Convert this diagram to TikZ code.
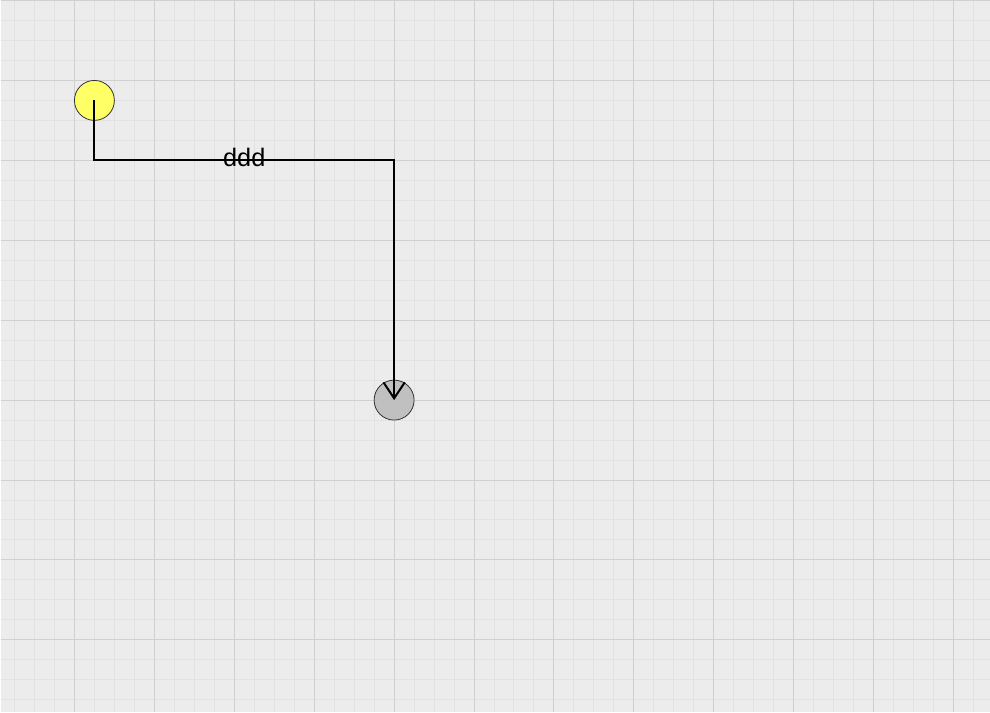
\documentclass[tikz,border=0pt]{standalone}
\usepackage{fontspec}
\setmainfont{Liberation Sans}
\usetikzlibrary{calc,arrows.meta}
\definecolor{canvas}{RGB}{236,236,236}
\definecolor{gridminor}{RGB}{226,226,226}
\definecolor{gridmajor}{RGB}{208,208,208}
\definecolor{startfill}{RGB}{255,255,102}
\definecolor{endfill}{RGB}{192,192,192}
\begin{document}
\begin{tikzpicture}[x=0.75pt,y=-0.75pt]
  %
  % Définitions
  %
  \tikzset{
    event/.style={circle, draw=black!80, line width=0.6pt, minimum size=30pt, inner sep=0pt},
    flow/.style={line width=1.5pt, -{Straight Barb[length=12pt,width=16pt,line width=1.5pt]}},
    flowlabel/.style={font=\fontsize{19}{21}\selectfont, inner sep=0pt, text=black},
  }
  \pgfmathsetmacro{\w}{990};%
  \pgfmathsetmacro{\h}{712};%

  % Fond et grille
  \fill[canvas] (0,0) rectangle (\w,\h);
  \foreach \x in {14,34,...,990} \draw[gridminor, line width=0.75pt] (\x,0) -- (\x,\h);
  \foreach \y in {20,40,...,712} \draw[gridminor, line width=0.75pt] (0,\y) -- (\w,\y);
  \foreach \x in {74,154,...,990} \draw[gridmajor, line width=0.75pt] (\x,0) -- (\x,\h);
  \foreach \y in {0,80,...,712} \draw[gridmajor, line width=0.75pt] (0,\y) -- (\w,\y);

  %
  % Dessin
  %
  \node[event, fill=startfill] (start) at (94,100) {};
  \node[event, fill=endfill] (stop) at (394,400) {};
  \coordinate (corner) at (394,160);

  % Connexion
  \draw[flow] (start.center) |- node[flowlabel, pos=0.75, yshift=2pt] {ddd} (corner) -- (stop.center);

  \useasboundingbox (0,0) rectangle (\w,\h);
\end{tikzpicture}
\end{document}
